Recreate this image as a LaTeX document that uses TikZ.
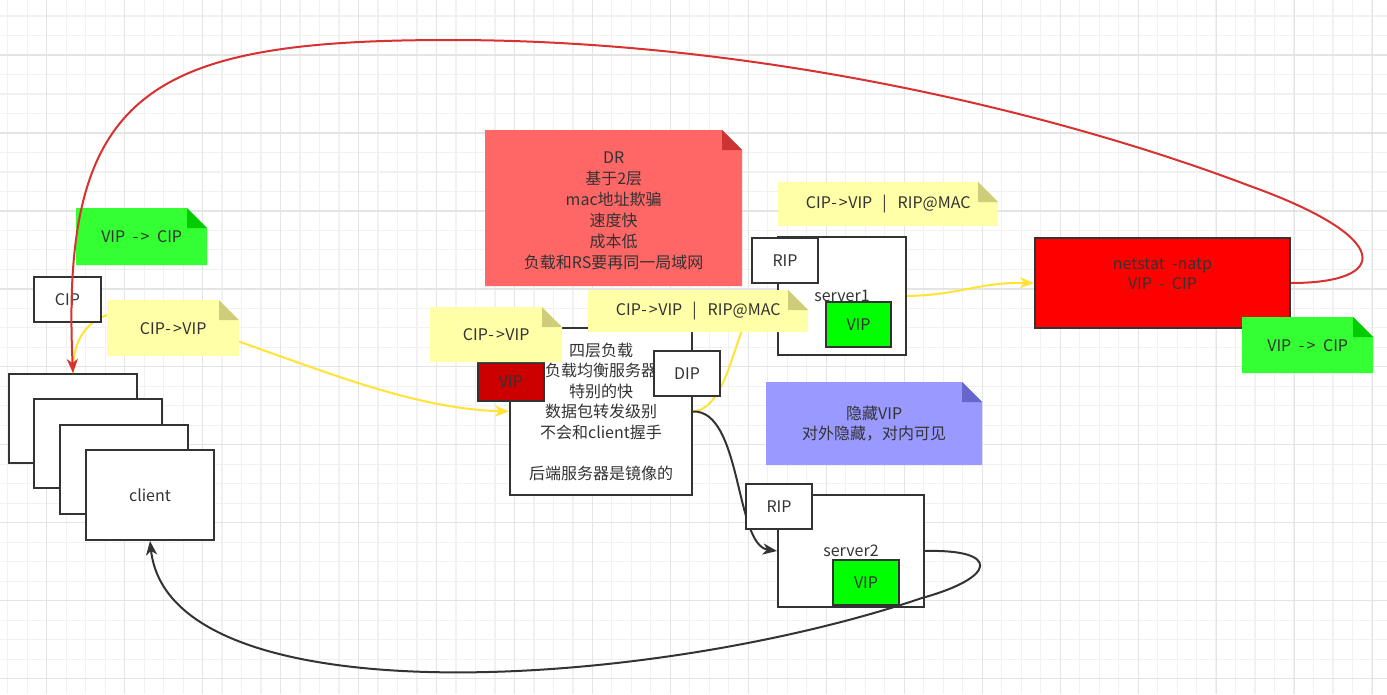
\documentclass[tikz,border=0pt]{standalone}
\usepackage{fontspec}
\setmainfont{Noto Sans CJK SC}[WordSpace=2]
\usetikzlibrary{arrows.meta}
\definecolor{txt}{HTML}{333333}
\definecolor{gridminor}{HTML}{F1F1F1}
\definecolor{gridmajor}{HTML}{E4E4E4}
\definecolor{ynote}{HTML}{FFFFA8}
\definecolor{yfold}{HTML}{CECE7A}
\definecolor{gnote}{HTML}{33FF33}
\definecolor{gfold}{HTML}{00CC00}
\definecolor{rnote}{HTML}{FF6666}
\definecolor{rfold}{HTML}{CC3333}
\definecolor{pnote}{HTML}{9999FF}
\definecolor{pfold}{HTML}{6666CC}
\definecolor{redline}{HTML}{D93030}
\definecolor{yelline}{HTML}{FFE436}
\definecolor{darkred}{HTML}{CC0000}
\newcommand\fsz{\fontsize{16pt}{20.5pt}\selectfont}
\newcommand\arr{\kern0.5pt-\kern2pt>\kern0.5pt}
\newcommand\sep{\hspace{10pt}|\hspace{11pt}}
\begin{document}
\begin{tikzpicture}[x=1pt,y=-1pt,
  box/.style={draw=txt, line width=2pt, fill=white, text=txt, font=\fsz,
    anchor=north west, inner sep=0pt, align=center},
  note/.style n args={2}{anchor=north west, inner sep=0pt, align=center, text=txt, font=\fsz,
    path picture={
      \fill[#1] (path picture bounding box.south west) -- (path picture bounding box.north west)
        -- ([xshift=-20pt]path picture bounding box.north east)
        -- ([yshift=-20pt]path picture bounding box.north east)
        -- (path picture bounding box.south east) -- cycle;
      \fill[#2] ([xshift=-20pt]path picture bounding box.north east)
        -- ([xshift=-20pt,yshift=-20pt]path picture bounding box.north east)
        -- ([yshift=-20pt]path picture bounding box.north east) -- cycle;
    }},
  label text/.style={text=txt, font=\fsz, align=center, inner sep=0pt},
  tip/.style={-{Stealth[length=14pt,width=11pt,inset=4pt]}},
  rededge/.style={draw=redline, line width=2pt, tip},
  yeledge/.style={draw=yelline, line width=2pt, tip},
  darkedge/.style={draw=txt, line width=2pt, tip},
]
\useasboundingbox (0,0) rectangle (1387,694);
\fill[white] (0,0) rectangle (1387,694);
% grid
\foreach \i in {0,...,71} {
  \draw[gridminor, line width=1.2pt] ({7.7+19.49*\i},0) -- ({7.7+19.49*\i},694);
}
\foreach \i in {0,...,36} {
  \draw[gridminor, line width=1.2pt] (0,{16.0+19.49*\i}) -- (1387,{16.0+19.49*\i});
}
\foreach \i in {0,...,17} {
  \draw[gridmajor, line width=1.2pt] ({46.7+77.97*\i},0) -- ({46.7+77.97*\i},694);
}
\foreach \i in {0,...,8} {
  \draw[gridmajor, line width=1.2pt] (0,{55+77.97*\i}) -- (1387,{55+77.97*\i});
}

% clients
\node[box, minimum width=128pt, minimum height=89pt] (client1) at (8,373) {};
\node[box, minimum width=128pt, minimum height=89pt] (client2) at (33,398) {};
\node[box, minimum width=128pt, minimum height=89pt] (client3) at (59,424) {};
\node[box, minimum width=128pt, minimum height=90pt] (client4) at (85,449) {client};

% load balancer
\node[box, minimum width=182pt, minimum height=167pt] (lb) at (509,327)
  {四层负载\\负载均衡服务器\\特别的快\\数据包转发级别\\不会和client握手\\[20.5pt]后端服务器是镜像的};

% servers
\node[box, minimum width=128pt, minimum height=118pt] (server1) at (777,236) {server1};
\node[box, minimum width=146pt, minimum height=112pt] (server2) at (777,494) {server2};

% netstat
\node[box, fill=red, minimum width=255pt, minimum height=90pt] (netstat) at (1034,237) {};
\node[label text] (netstattext) at ([yshift=9pt]netstat.center) {netstat -natp\\VIP - CIP};

% edges under boxes/notes
\draw[yeledge] (client1.north) .. controls (72,320) and (110,300) .. (170,318)
  .. controls (300,360) and (400,408) .. (lb.west);
\draw[yeledge] (lb.east) .. controls (735,408) and (735,300) .. (server1.west);
\draw[yeledge] (server1.east) .. controls (960,295) and (980,282) .. (netstat.west);
\draw[darkedge] (lb.east) .. controls (742,410) and (735,545) .. (server2.west);

% small boxes
\node[box, minimum width=67pt, minimum height=45pt] (cip) at (33,276) {CIP};
\node[box, fill=darkred, minimum width=66pt, minimum height=38pt] (vip0) at (477,362) {VIP};
\node[box, minimum width=66pt, minimum height=45pt] (dip) at (653,350) {DIP};
\node[box, minimum width=66pt, minimum height=45pt] (rip1) at (751,237) {RIP};
\node[box, fill=green, minimum width=65pt, minimum height=45pt] (vip1) at (825,301) {VIP};
\node[box, minimum width=66pt, minimum height=45pt] (rip2) at (745,483) {RIP};
\node[box, fill=green, minimum width=66pt, minimum height=45pt] (vip2) at (832,559) {VIP};

% notes
\node[note={gnote}{gfold}, minimum width=131pt, minimum height=57pt] (gn1) at (76,208) {VIP \arr{} CIP};
\node[note={ynote}{yfold}, minimum width=132pt, minimum height=56pt] (yn1) at (107,300) {CIP\arr VIP};
\node[note={rnote}{rfold}, minimum width=257pt, minimum height=156pt] (dr) at (485,130) {};
\node[label text, font=\fontsize{16pt}{21pt}\selectfont] (drtext) at ([yshift=-3pt]dr.center)
  {DR\\基于2层\\mac地址欺骗\\速度快\\成本低\\负载和RS要再同一局域网};
\node[note={ynote}{yfold}, minimum width=132pt, minimum height=55pt] (yn2) at (430,307) {CIP\arr VIP};
\node[note={ynote}{yfold}, minimum width=220pt, minimum height=42pt] (yn3) at (588,290) {CIP\arr VIP\sep RIP@MAC};
\node[note={ynote}{yfold}, minimum width=220pt, minimum height=44pt] (yn4) at (778,182) {CIP\arr VIP\sep RIP@MAC};
\node[note={gnote}{gfold}, minimum width=131pt, minimum height=56pt] (gn2) at (1242,317) {VIP \arr{} CIP};
\node[note={pnote}{pfold}, minimum width=216pt, minimum height=83pt] (pn) at (766,382) {隐藏VIP\\对外隐藏，对内可见};

% edges on top
\draw[rededge] (netstat.east) .. controls (1390,283) and (1395,238) .. (1250,186)
  .. controls (1050,110) and (750,40) .. (450,40)
  .. controls (150,40) and (60,90) .. (client1.north);
\draw[darkedge] (server2.east) .. controls (1000,549) and (998,577) .. (922,598)
  .. controls (650,690) and (170,720) .. (client4.south);
\end{tikzpicture}
\end{document}
